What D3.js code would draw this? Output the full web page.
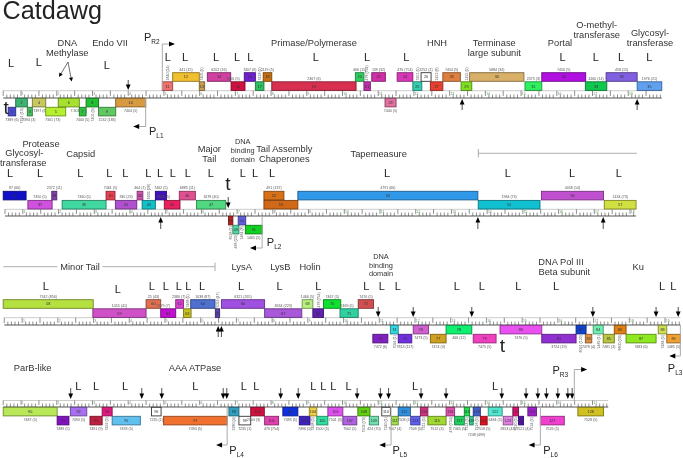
<!DOCTYPE html>
<html><head><meta charset="utf-8">
<style>html,body{margin:0;padding:0;background:#fff}svg{display:block;filter:blur(.38px)}text{font-family:"Liberation Sans",Arial,sans-serif}</style>
<script src="https://cdn.jsdelivr.net/npm/d3@7/dist/d3.min.js"></script></head><body>
<svg id="map" width="683" height="458"></svg>
<script>
// ---- data: gene number is the 1-based index into these arrays ----
const rowFirstGene = [1, 36, 58, 90];
const rowLastBp = [18530, 17810, 19050, 17030];
const rowFirstBp = [90, 140, 120, 90];
const geneStarts = [230,440,765,905,1280,1630,2220,2410,2760,3240,4545,4835,5580,5805,6470,6840,7150,7370,7610,9950,10190,10410,10780,11120,11560,11790,12050,12400,12910,13150,14700,15170,16390,16970,17840,
90,780,1450,1740,2970,3230,3840,3980,4350,4600,5020,5500,6400,6520,6670,6870,7390,7390,8340,13390,15160,16920,
90,2600,4090,4500,4920,5140,5340,6030,6200,7410,8460,8760,9060,9520,10030,10440,10930,11150,11570,12050,12490,13250,14000,15170,16130,16390,16610,16890,17200,17530,18430,18670,
90,1600,1970,2520,2860,3140,4240,4580,6410,6690,7020,7410,7920,8380,8660,8870,9180,9600,10020,10340,10690,10960,11150,11500,11770,11980,12490,12730,13000,13150,13250,13450,13670,14090,14360,14520,14780,15130,16180];
const geneEnds = [440,765,905,1280,1840,2220,2410,2760,3240,4080,4835,5580,5730,6460,6860,7150,7390,7610,9970,10190,10370,10790,11090,11560,11810,12070,12400,12890,13210,14670,15170,16400,16990,17840,18530,
730,1460,1590,2970,3220,3830,4000,4350,4660,5040,5470,6320,6520,6690,6880,7340,7950,8340,13380,15120,16900,17810,
2610,4090,4500,4920,5140,5350,6020,6150,7410,8450,8760,9060,9540,10030,10460,10860,11150,11530,12000,12490,13210,13890,15170,16130,16410,16570,16890,17200,17530,18370,18670,19050,
1600,1930,2430,2860,3140,3930,4510,6360,6690,7020,7400,7800,8340,8680,8870,9180,9600,9990,10360,10600,10930,11150,11490,11760,11980,12490,12730,13000,13150,13250,13450,13640,14060,14360,14520,14660,15020,15800,16900];
const laneCodes = [
 "D","C","D","C","D","C","D","C","D","C","A","B","A","B","A","B","A","B","A","B","A","B","C","B","A","B","A","B","A","B","A","B","A","B","A",
 "B","A","B","A","B","A","B","A","B","A","B","A","C","D","C","D","B","A","B","A","B","A",
 "B","A","B","A","B","A","B","A","B","A","B","A","B","A","B","D","C","D","C","D","C","D","C","D","C","D","C","D","C","D","C","D",
 "C","D","C","D","C","D","C","D","C","D","C","D","C","D","C","D","C","D","C","D","C","D","C","D","C","D","C","D","C","D","C","D","C","D","C","D","C","D","C","D","C","D","B"];
const geneColors = ["#4a4ad0","#3cb371","#48c060","#c8c860","#b4f030","#a8e030","#30c040","#20c030","#60c860","#d89a40","#f07070","#f0c030","#c8a050","#d040a0","#d01040","#7020d0","#30c060","#c87010","#d83050","#30d060","#c030b0","#d030a8","#e070a0","#d838b8","#30d0b0","#ffffff","#e84030","#e08040","#80e020","#d8b068","#30f060","#b010e0","#10c850","#8060e0","#60a0f0",
"#1010c8","#d050e0","#8040b0","#40d8a0","#e84050","#b050d0","#d050b0","#10c0c8","#4010c0","#e82060","#e05090","#50d880","#c02020","#50d8a0","#6060e0","#10d020","#d87018","#d06818","#3098e8","#10c0d0","#c050d0","#d0e040",
"#b4e040","#d050c8","#e07050","#c010d0","#d840d0","#c8c020","#5070d0","#6040b0","#a050e0","#a858d8","#b8f080","#6020b0","#10e030","#30d0a0","#d05050","#8020c0","#30d8e0","#7030e0","#d060d0","#d0a020","#10f070","#f040c0","#e850f0","#9030d0","#1040d0","#e09040","#70f0b0","#b8c840","#e08010","#90e820","#d0e050","#f0a030",
"#b8e858","#8010c0","#a870f0","#c02040","#e01880","#60c0f0","#ffffff","#f07030","#30a0c0","#ffffff","#d01040","#e040b0","#1030e0","#4020c0","#f0d040","#30e0a0","#e050f0","#b060e0","#60d010","#70e0b0","#ffffff","#a0e050","#3090e0","#6060f0","#d03080","#a0d830","#e050b0","#20d060","#20e050","#30d090","#4060d0","#e01020","#50e8d0","#e080e0","#d81070","#5010b0","#a020d0","#f040d0","#d0c020"];
const geneLabels = ["7389 (6)","7391 (10)","7394 (3)","7397 (6)","7301 (73)","7.301 (73)","7400 (5)","7401 (9)","1532 (183)","7404 (5)","1640 (14)","441 (15)","7405 (5)","6202 (16)","7406 (5)","7407 (6)","7418 (5)","1119 (5)","2367 (6)","466 (11)","476 (754)","139 (32)","7440 (5)","476 (754)","7451 (5)","7252 (1)","1452 (6)","7454 (5)","1455 (5)","5884 (34)","2375 (3)","7456 (5)","4160 (14)","458 (15)","1976 (21)",
"87 (66)","7450 (5)","2372 (11)","7460 (5)","7461 (5)","330 (23)","464 (1)","6005 (26)","7462 (5)","7463 (5)","6885 (11)","1678 (40)","6536 (1)","466 (23)","1464 (6)","1465 (5)","491 (137)","","4791 (66)","1984 (73)","4058 (14)","1434 (73)",
"7342 (856)","1055 (41)","25 (43)","2379 (7)","2380 (7)","7466 (5)","1638 (87)","5093 (47)","6321 (265)","3634 (223)","1466 (5)","476 (754)","7467 (5)","7469 (5)","7470 (5)","7472 (6)","7094 (1)","7813 (117)","7473 (5)","7474 (3)","466 (12)","7475 (5)","7476 (5)","3724 (19)","6091 (122)","7478 (4)","1469 (1)","7481 (3)","6600 (20)","7483 (6)","7484 (5)","1485 (5)",
"7487 (5)","7489 (5)","7490 (5)","7491 (9)","7492 (5)","7493 (5)","7235 (1)","7494 (5)","2280 (4)","7235 (1)","2704 (3)","476 (754)","7495 (5)","7496 (5)","7498 (5)","1500 (5)","7501 (3)","7502 (5)","7503 (70)","424 (70)","7240 (1)","7507 (4)","7508 (5)","7509 (5)","7511 (5)","7512 (3)","476 (754)","7465 (5)","7514 (5)","7248 (499)","7516 (5)","7518 (5)","6484 (5)","2853 (43)","7520 (5)","7521 (4)","7524 (5)","7526 (5)","7528 (5)"];
const verticalLabelGenes = [2,8,11,13,17,21,25,27,29,43,48,49,50,63,65,69,74,82,84,86,88,94,98,104,108,110,114,116,118,120,124,126];
const labelShifts = {3:[-1,0],4:[1,0],5:[-3,0],6:[10,0],15:[-5,0],45:[-9,0],61:[-5,0],62:[-1,0],71:[-2,0],83:[0,0],100:[-4,0],119:[5,6],125:[2,0]};
const leftwardL = [[0,310,63],[0,1090,62],[0,2990,65],[0,4700,57],[0,5180,57],[0,6050,57],[0,6640,57],[0,7010,57],[0,8840,57],[0,10280,57],[0,11380,57],[0,15750,57],[0,16680,57],[0,17390,57],[0,18180,57],
[1,280,172.7],[1,1120,172.7],[1,2250,172.7],[1,3060,172.7],[1,3510,172.7],[1,4150,172.7],[1,4480,172.7],[1,4840,172.7],[1,5260,172.7],[1,5900,172.7],[1,6800,172.7],[1,7140,172.7],[1,7620,172.7],[1,10840,172.7],[1,14220,172.7],[1,16020,172.7],[1,17330,172.7],
[2,1280,285.7],[2,3300,288.7],[2,4250,285.7],[2,4640,285.7],[2,5010,285.7],[2,5270,285.7],[2,5660,285.7],[2,6750,285.7],[2,7830,285.7],[2,8910,285.7],[2,10260,285.7],[2,10690,285.7],[2,11140,285.7],[2,12790,285.7],[2,13490,285.7],[2,14510,285.7],[2,15570,285.7],[2,18540,285.7],[2,18850,285.7],
[3,2190,386],[3,2690,386],[3,3500,386],[3,5470,386],[3,6830,386],[3,7180,386],[3,8770,386],[3,9050,386],[3,9330,386],[3,9760,386],[3,11620,386],[3,13860,386]];
const terminators = [[0,90,107],[1,6300,183],[2,13980,345]];
const arrowsDown = [[0,3590,80,90],[1,6390,197,208],
 [2,10590,307,317],[2,11570,307,317],[2,13210,307,317],[2,16600,307,317],[2,18370,307,317],[2,18990,307,317],
 [3,1980,388,399],[3,3970,388,399],[3,4530,388,399],[3,6250,388,399],[3,6350,388,399],[3,7860,388,399],[3,8350,388,399],[3,10000,388,399],[3,10650,388,399],[3,10880,388,399],[3,11790,388,399],[3,12490,388,399],[3,14050,388,399],[3,14730,388,399],[3,15060,388,399],[3,15300,388,399],[3,15620,388,399],[3,15900,388,399],[3,16020,388,399]];
const arrowsUp = [[0,12940,110,99],[0,17840,110,99],[1,4500,229,217],[1,13380,229,217],[1,16890,229,217],[2,6110,337,326],[2,6200,337,326]];
const promoters = [
 {name:"R2",row:0,bp:4545,y0:90,y1:44,end:4900,labelBp:4030,baseline:41},
 {name:"L1",row:0,bp:4080,y0:98,y1:126.5,end:3730,labelBp:4170,baseline:135},
 {name:"L2",row:1,bp:7340,y0:216,y1:248,end:7000,labelBp:7470,baseline:246},
 {name:"L3",row:2,bp:19050,y0:325,y1:356,end:18740,labelBp:18700,baseline:372},
 {name:"L4",row:3,bp:6360,y0:407,y1:445,end:6050,labelBp:6420,baseline:454},
 {name:"L5",row:3,bp:10950,y0:407,y1:445,end:10620,labelBp:10990,baseline:454},
 {name:"L6",row:3,bp:15130,y0:407,y1:445,end:14800,labelBp:15210,baseline:454},
 {name:"R3",row:3,bp:16080,y0:401,y1:369.5,end:16440,labelBp:15470,baseline:374}];
const functionLabels = [
 ["DNA",67.3,45.7],["Methylase",67.3,56],["Endo VII",110,45.7],["Primase/Polymerase",314,45.7],["HNH",437,45.7],["Terminase",494.3,45.7],["large subunit",494.3,55.7],["Portal",560,45.7],["O-methyl-",596.7,27.7],["transferase",596.7,37.7],["Glycosyl-",650,36],["transferase",650,45.7],
 ["Protease",41,146.7],["Glycosyl-",24.3,156],["transferase",23.3,165.7],["Capsid",80.7,156.7],["Major",209.3,151.7],["Tail",209.3,161.7],["Tail Assembly",284.3,151.7],["Chaperones",284.3,161.7],["Tapemeasure",378.7,156.7],
 ["Minor Tail",80,270],["LysA",241.7,270],["LysB",280.3,270],["Holin",310,270],["DNA Pol III",561,265],["Beta subunit",564.3,275],["Ku",638.3,270],
 ["ParB-like",32.7,371],["AAA ATPase",195,371]];
const smallFunctionLabels = [["DNA",242.7,144.3],["binding",242.7,153.3],["domain",242.7,161.7],["DNA",381,259.3],["binding",381,267.7],["domain",381,275.7]];

// ---- layout ----
const svg = d3.select("#map");
const x = d3.scaleLinear().domain([0, 683 * 28]).range([0, 683]);
const rulerTop = [90.7, 209.3, 317.7, 400.5];
const rulerBottom = [98, 216, 325, 407];
const boxH = 8.6;
const laneY = (row, lane) => ({
  A: rulerTop[row] - boxH - 0.3,
  B: rulerTop[row] - 2 * boxH - 0.8,
  C: rulerBottom[row] + 0.3,
  D: rulerBottom[row] + boxH + 0.7
}[lane]);
const rowOf = i => d3.bisectRight(rowFirstGene, i + 1) - 1;

svg.append("text").text("Catdawg").attr("x", 2.5).attr("y", 19).attr("font-size", 25.2).attr("fill", "#222");

// rulers
rowFirstBp.forEach((first, r) => {
  const g = svg.append("g");
  const end = rowLastBp[r];
  const xs = d3.range(first, end + 1, 100);
  g.append("line").attr("x1", x(first)).attr("x2", x(end)).attr("y1", rulerTop[r]).attr("y2", rulerTop[r]).attr("stroke", "#aaa").attr("stroke-width", .6);
  g.append("line").attr("x1", x(first)).attr("x2", x(end)).attr("y1", rulerBottom[r]).attr("y2", rulerBottom[r]).attr("stroke", "#555").attr("stroke-width", 1);
  g.selectAll("line.tick").data(xs).join("line").attr("class", "tick")
    .attr("x1", d => x(d)).attr("x2", d => x(d))
    .attr("y1", (d, i) => i % 5 === 0 ? rulerTop[r] : rulerBottom[r] - 3.5)
    .attr("y2", (d, i) => i % 5 === 0 ? rulerBottom[r] - 2 : rulerBottom[r])
    .attr("stroke", "#444").attr("stroke-width", .6);
  g.selectAll("text.kb").data(xs.filter((d, i) => i % 10 === 5)).join("text").attr("class", "kb")
    .attr("x", d => x(d) + .8).attr("y", rulerBottom[r] - 3).attr("font-size", 3.4).attr("fill", "#5a9a5a").text((d, i) => i + 1);
});

// bracket lines
const bracket = svg.append("g").attr("stroke", "#999").attr("stroke-width", .8);
[[478.3, 637, 153.3], [3.3, 57.3, 266.7], [102.3, 215, 266.7]].forEach(b =>
  bracket.append("line").attr("x1", b[0]).attr("x2", b[1]).attr("y1", b[2]).attr("y2", b[2]));
bracket.append("line").attr("x1", 478.3).attr("x2", 478.3).attr("y1", 149).attr("y2", 157.5);
bracket.append("line").attr("x1", 215).attr("x2", 215).attr("y1", 262.5).attr("y2", 271);

// genes
const genes = geneStarts.map((s, i) => ({ id: i + 1, s, e: geneEnds[i], row: rowOf(i), lane: laneCodes[i], color: geneColors[i], label: geneLabels[i] }));
const gg = svg.selectAll("g.gene").data(genes).join("g").attr("class", "gene");
gg.append("rect")
  .attr("x", d => x(d.s)).attr("width", d => x(d.e) - x(d.s))
  .attr("y", d => laneY(d.row, d.lane)).attr("height", boxH)
  .attr("fill", d => d.color)
  .attr("stroke", d => d.color === "#ffffff" ? "#333" : d3.color(d.color).darker(1.4))
  .attr("stroke-width", .9);
gg.append("text").text(d => d.id)
  .attr("x", d => (x(d.s) + x(d.e)) / 2).attr("y", d => laneY(d.row, d.lane) + boxH / 2 + 1.4)
  .attr("text-anchor", "middle").attr("font-size", 3.8).attr("fill", "#333");
gg.each(function (d) {
  const vertical = verticalLabelGenes.includes(d.id);
  const above = d.lane === "A" || d.lane === "B";
  const shift = labelShifts[d.id] || [0, 0];
  const cx = (x(d.s) + x(d.e)) / 2 + shift[0];
  const top = laneY(d.row, d.lane);
  const t = d3.select(this).append("text").text(d.label).attr("font-size", 3.6).attr("fill", "#555");
  if (vertical) {
    const y = above ? top - 1.2 : top + boxH + 1.2;
    t.attr("transform", `translate(${cx + 1.3},${y}) rotate(-90)`).attr("text-anchor", above ? "start" : "end");
  } else {
    const y = (above ? top - 2 : top + boxH + 4.8) + shift[1];
    t.attr("x", cx).attr("y", y).attr("text-anchor", "middle");
  }
});

// L marks
svg.selectAll("text.leftward").data(leftwardL).join("text").attr("class", "leftward")
  .attr("x", d => x(d[1])).attr("y", d => d[2] + 4).attr("text-anchor", "middle").attr("font-size", 11).attr("fill", "#222").text("L");
// terminators
svg.selectAll("text.term").data(terminators).join("text").attr("class", "term")
  .attr("x", d => x(d[1]) + 3).attr("y", d => d[2] + 6.5).attr("text-anchor", "middle").attr("font-size", 19).attr("fill", "#222").text("t");

// arrows
function arrow(x0, y0, y1) {
  const dir = y1 > y0 ? 1 : -1;
  const g = svg.append("g");
  g.append("line").attr("x1", x0).attr("x2", x0).attr("y1", y0).attr("y2", y1 - dir * 4).attr("stroke", "#222").attr("stroke-width", .8);
  g.append("path").attr("d", d3.line()([[x0 - 2.4, y1 - dir * 5.5], [x0 + 2.4, y1 - dir * 5.5], [x0, y1]]) + "Z").attr("fill", "#000");
}
arrowsDown.concat(arrowsUp).forEach(a => arrow(x(a[1]), a[2], a[3]));

// promoters
promoters.forEach(p => {
  const g = svg.append("g");
  const px = x(p.bp), ex = x(p.end), dir = ex > px ? 1 : -1;
  g.append("path").attr("d", d3.line()([[px, p.y0], [px, p.y1], [ex - dir * 4, p.y1]])).attr("fill", "none").attr("stroke", "#aaa").attr("stroke-width", 1);
  g.append("path").attr("d", d3.line()([[ex - dir * 6, p.y1 - 2.4], [ex - dir * 6, p.y1 + 2.4], [ex, p.y1]]) + "Z").attr("fill", "#000");
  const t = g.append("text").attr("x", x(p.labelBp)).attr("y", p.baseline).attr("font-size", 11).attr("fill", "#222").text("P");
  t.append("tspan").attr("font-size", 6.5).attr("dy", 2.6).text(p.name);
});

// function labels
svg.selectAll("text.fn").data(functionLabels).join("text").attr("class", "fn")
  .attr("x", d => d[1]).attr("y", d => d[2]).attr("text-anchor", "middle").attr("font-size", 9.3).attr("fill", "#333").text(d => d[0]);
svg.selectAll("text.fs").data(smallFunctionLabels).join("text").attr("class", "fs")
  .attr("x", d => d[1]).attr("y", d => d[2]).attr("text-anchor", "middle").attr("font-size", 7.4).attr("fill", "#333").text(d => d[0]);
// methylase pointers
[[59, 77], [71.7, 81.5]].forEach(p => {
  const a = Math.atan2(p[1] - 62, p[0] - 68);
  svg.append("line").attr("x1", 68).attr("y1", 62).attr("x2", p[0] - 3 * Math.cos(a)).attr("y2", p[1] - 3 * Math.sin(a)).attr("stroke", "#333").attr("stroke-width", .7);
  svg.append("path").attr("transform", `translate(${p[0]},${p[1]}) rotate(${a * 180 / Math.PI})`).attr("d", "M0,0L-4,-2L-4,2Z").attr("fill", "#000");
});
</script></body></html>
